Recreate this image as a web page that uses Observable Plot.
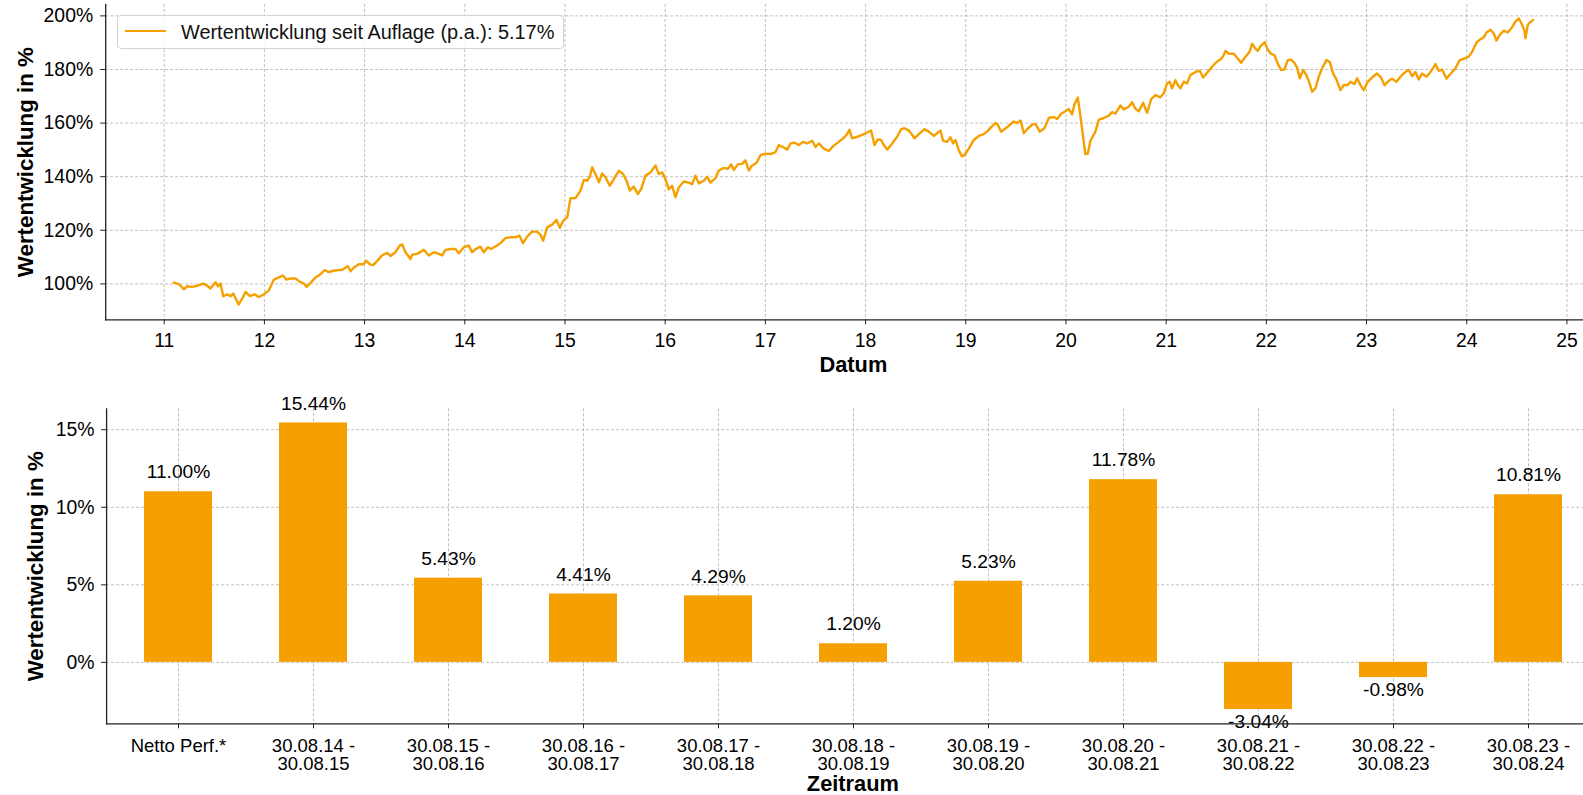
<!DOCTYPE html>
<html>
<head>
<meta charset="utf-8">
<script src="https://cdn.jsdelivr.net/npm/d3@7"></script>
<script src="https://cdn.jsdelivr.net/npm/@observablehq/plot@0.6"></script>
<style>
html, body { margin: 0; padding: 0; background: #fff; overflow: hidden; }
#wrap { position: relative; width: 1583px; height: 795px; overflow: hidden; font-family: "Liberation Sans", Arial, sans-serif; }
#wrap svg { display: block; overflow: hidden; }
#legend { position: absolute; left: 117px; top: 15px; width: 447px; height: 34px; box-sizing: border-box;
  border: 1px solid #d4d4d4; border-radius: 4px; background: rgba(255,255,255,0.85); }
#legend .swatch { position: absolute; left: 7px; top: 14px; width: 41px; height: 2px; background: #f5a000; }
#legend .lbl { position: absolute; left: 63px; top: 0; height: 32px; line-height: 32px; font-size: 19.9px; color: #111; white-space: nowrap; }
</style>
</head>
<body>
<div id="wrap">
  <div id="top"></div>
  <div id="bottom"></div>
  <div id="legend"><div class="swatch"></div><div class="lbl"></div></div>
</div>
<script>
// ---------- data: top line chart (decimal year, value in %) ----------
const lineYears = [
2011.096,2011.146,2011.196,2011.230,2011.279,2011.329,2011.389,2011.429,2011.462,2011.512,2011.539,2011.562,2011.589,2011.629,2011.662,2011.689,2011.722,2011.742,2011.779,2011.812,2011.855,2011.902,2011.945,2011.995,
2012.045,2012.095,2012.144,2012.184,2012.218,2012.261,2012.314,2012.344,2012.394,2012.421,2012.461,2012.510,2012.560,2012.600,2012.644,2012.687,2012.727,2012.777,2012.810,2012.833,2012.860,2012.893,2012.943,2012.986,
2013.019,2013.053,2013.086,2013.126,2013.176,2013.226,2013.259,2013.309,2013.352,
2013.375,2013.408,2013.458,2013.474,2013.524,2013.591,2013.641,2013.691,2013.741,2013.774,2013.807,2013.857,2013.907,2013.940,2013.990,
2014.040,2014.073,2014.107,2014.156,2014.190,2014.230,2014.263,2014.323,2014.356,2014.406,2014.456,2014.506,2014.546,2014.582,2014.622,2014.672,2014.722,2014.755,2014.782,2014.822,2014.872,2014.915,2014.948,2014.982,
2015.022,2015.055,2015.105,2015.155,2015.188,2015.221,2015.248,2015.271,2015.304,2015.338,2015.371,2015.404,2015.447,2015.487,2015.537,2015.580,2015.614,2015.647,2015.687,2015.727,2015.760,2015.803,2015.853,
2015.903,2015.936,2015.969,2016.003,2016.036,2016.069,2016.103,2016.136,2016.186,2016.236,2016.269,2016.302,2016.335,2016.385,2016.419,2016.452,2016.502,2016.535,2016.585,2016.625,2016.658,2016.685,2016.725,2016.768,2016.801,2016.834,2016.868,2016.911,2016.951,
2017.001,2017.051,2017.101,2017.134,2017.184,2017.217,2017.250,2017.290,2017.334,2017.377,2017.417,2017.467,2017.500,2017.533,2017.583,2017.633,2017.676,2017.733,2017.776,2017.816,2017.839,2017.866,2017.916,2017.966,
2018.016,2018.055,2018.089,2018.122,2018.155,2018.182,2018.215,2018.265,2018.315,2018.355,
2018.388,2018.431,2018.454,2018.488,2018.531,2018.588,2018.631,2018.681,2018.714,2018.747,2018.774,2018.814,2018.847,2018.874,2018.897,2018.930,2018.963,2018.987,
2019.030,2019.080,2019.130,2019.180,2019.220,2019.253,2019.296,2019.319,2019.353,2019.386,2019.429,2019.479,2019.512,2019.546,2019.579,2019.612,2019.662,2019.695,2019.739,2019.785,2019.829,2019.878,2019.912,2019.952,2019.995,
2020.028,2020.061,2020.085,2020.118,2020.145,2020.171,2020.194,2020.218,2020.244,2020.294,2020.328,2020.377,2020.427,2020.461,2020.494,2020.544,2020.577,2020.627,2020.660,2020.694,2020.727,2020.770,2020.810,2020.850,2020.893,2020.943,2020.976,
2021.009,2021.036,2021.059,2021.093,2021.116,2021.142,2021.176,2021.209,2021.242,2021.292,2021.335,2021.369,2021.409,2021.458,2021.502,2021.542,2021.568,2021.592,2021.625,2021.675,2021.715,2021.748,2021.791,2021.831,2021.858,2021.891,2021.914,2021.941,2021.984,
2022.014,2022.047,2022.081,2022.114,2022.147,2022.180,2022.214,2022.247,2022.280,2022.307,2022.334,2022.367,2022.393,2022.423,2022.457,2022.490,2022.523,2022.556,2022.600,2022.633,2022.666,2022.699,2022.739,2022.773,2022.813,2022.839,2022.879,2022.906,2022.939,2022.972,
2023.012,2023.055,2023.105,2023.145,2023.179,2023.222,2023.255,2023.298,2023.338,2023.378,2023.421,2023.455,2023.488,2023.521,2023.554,2023.598,2023.638,2023.688,2023.721,2023.754,2023.797,2023.837,2023.887,2023.930,2023.977,
2024.020,2024.054,2024.097,2024.137,2024.170,2024.197,2024.237,2024.270,2024.296,2024.330,2024.370,2024.410,2024.453,2024.486,2024.519,2024.553,2024.576,2024.586,2024.609,2024.629,2024.662
];
const lineValues = [
100.5,99.9,98.0,99.1,98.9,99.3,100.1,99.3,98.3,100.6,99.1,100.1,95.4,96.1,95.4,96.4,93.9,92.3,94.5,97.0,95.4,96.1,95.1,96.1,
97.6,101.6,102.4,103.1,101.6,102.0,102.0,101.0,100.1,98.9,100.4,102.4,103.6,105.1,104.4,104.9,105.1,105.3,106.1,106.6,104.7,106.1,107.3,107.3,
108.6,107.3,107.0,108.6,110.7,111.6,110.4,111.9,114.4,
114.7,111.8,109.3,110.9,111.2,112.7,110.6,111.8,111.2,110.6,112.7,113.0,113.0,111.4,113.7,
114.3,111.8,113.0,113.9,111.8,113.7,113.0,114.3,115.2,117.1,117.4,117.4,118.0,115.2,117.6,119.5,119.5,118.3,116.1,121.1,122.1,123.9,120.9,123.6,
124.8,132.0,132.0,134.8,138.8,138.5,140.0,143.5,141.0,137.9,141.2,139.8,136.6,139.1,142.2,141.0,138.5,134.8,136.3,133.5,135.4,140.4,141.6,
144.2,141.0,141.6,139.1,135.3,136.6,132.4,136.0,138.2,137.8,137.2,140.4,137.5,138.5,140.0,137.8,139.5,142.3,143.3,142.9,144.6,142.5,144.6,144.8,146.1,142.3,144.2,145.1,148.0,
148.6,148.4,149.2,151.8,150.9,150.1,152.4,152.7,151.8,153.0,152.4,153.4,151.1,152.4,150.5,149.6,151.4,153.0,154.3,155.9,157.5,154.3,154.9,155.6,
156.5,157.2,151.8,153.9,153.7,151.8,150.1,152.4,154.9,157.7,
158.1,157.2,156.2,154.3,155.9,157.7,156.8,155.2,156.2,157.2,153.4,153.0,154.7,152.4,153.7,149.9,147.6,148.0,
150.5,153.7,155.2,155.9,157.1,158.5,160.0,159.4,156.8,157.7,159.0,160.6,160.0,161.0,156.2,157.7,159.4,159.7,156.8,158.1,161.9,162.3,161.5,163.5,164.4,
165.3,163.2,167.0,169.5,162.5,154.9,148.4,148.6,153.4,156.8,161.3,161.9,162.8,164.1,163.5,166.6,165.1,166.1,167.8,165.3,164.4,167.6,163.8,168.9,170.4,169.6,171.1,
174.8,175.4,173.0,176.0,174.2,173.0,175.4,174.8,177.9,179.1,179.5,177.0,178.8,181.0,182.8,183.7,184.9,186.9,185.9,185.9,184.1,182.5,184.7,186.5,189.6,187.8,186.9,188.6,190.2,
187.4,185.9,185.3,182.2,179.8,180.0,183.5,183.7,182.5,180.7,176.7,179.8,178.3,175.8,171.7,173.0,177.3,180.4,183.5,182.8,178.5,176.3,172.3,174.2,174.2,175.4,174.6,176.7,174.2,172.3,
175.4,177.0,178.5,177.0,174.1,175.8,176.6,175.4,177.3,178.8,179.8,177.5,179.1,176.3,178.5,177.3,179.1,182.0,179.5,180.0,176.6,178.3,180.4,183.5,184.1,
184.8,186.6,190.0,191.3,192.0,193.8,194.8,193.5,190.8,192.9,194.5,193.8,195.8,197.9,199.1,196.6,194.5,191.6,196.6,197.5,198.5
];
const yearTicks = [2011,2012,2013,2014,2015,2016,2017,2018,2019,2020,2021,2022,2023,2024,2025];
const topYTicks = [100,120,140,160,180,200];
const legendLabel = "Wertentwicklung seit Auflage (p.a.): 5.17%";

// ---------- data: bottom bar chart ----------
const periods = ["Netto Perf.*","30.08.14 -\n30.08.15","30.08.15 -\n30.08.16","30.08.16 -\n30.08.17","30.08.17 -\n30.08.18",
  "30.08.18 -\n30.08.19","30.08.19 -\n30.08.20","30.08.20 -\n30.08.21","30.08.21 -\n30.08.22","30.08.22 -\n30.08.23","30.08.23 -\n30.08.24"];
const barValues = [11.00,15.44,5.43,4.41,4.29,1.20,5.23,11.78,-3.04,-0.98,10.81];
const bottomYTicks = [0,5,10,15];

// ---------- styling ----------
const ORANGE = "#f5a000";
const FONT = '"Liberation Sans", Arial, sans-serif';
const GRID = {stroke: "#b0b0b0", strokeOpacity: 1, strokeWidth: 0.8, strokeDasharray: "3,2"};
const SPINE = {stroke: "#222", strokeWidth: 1.3};

const lineData = lineYears.map((t, i) => ({t, v: lineValues[i]}));

const topChart = Plot.plot({
  width: 1583, height: 380,
  marginTop: 4, marginBottom: 60.7, marginLeft: 105.2, marginRight: -17.5,
  style: {fontFamily: FONT, fontSize: "19.4px", color: "#000", background: "#fff", overflow: "hidden"},
  x: {domain: [2010.416, 2025.34]},
  y: {domain: [86.6, 204.25]},
  marks: [
    Plot.gridX(yearTicks, GRID),
    Plot.gridY(topYTicks, GRID),
    Plot.line(lineData, {x: "t", y: "v", stroke: ORANGE, strokeWidth: 2.4, strokeLinejoin: "round"}),
    Plot.axisX(yearTicks, {tickFormat: d => String(d).slice(2), tickSize: 5, tickPadding: 8, fontSize: 19.4, label: null, stroke: "#222"}),
    Plot.axisY(topYTicks, {tickFormat: d => d + "%", tickSize: 5, tickPadding: 7.5, fontSize: 19.4, label: null, stroke: "#222"}),
    Plot.frame({anchor: "left", ...SPINE}),
    Plot.frame({anchor: "bottom", ...SPINE}),
    Plot.text(["Wertentwicklung in %"], {frameAnchor: "left", textAnchor: "middle", lineAnchor: "middle", dx: -80.2, rotate: -90, fontWeight: "bold", fontSize: 22.3, fill: "#000"}),
    Plot.text(["Datum"], {frameAnchor: "bottom", textAnchor: "middle", lineAnchor: "middle", dy: 45.7, fontWeight: "bold", fontSize: 21.8, fill: "#000"})
  ]
});
document.getElementById("top").appendChild(topChart);

const barData = periods.map((p, i) => ({p, v: barValues[i]}));
const bottomChart = Plot.plot({
  width: 1583, height: 415,
  marginTop: 28.3, marginBottom: 71.7, marginLeft: 106.1, marginRight: -15.7,
  style: {fontFamily: FONT, fontSize: "18.5px", color: "#000", background: "#fff", overflow: "hidden"},
  x: {domain: periods, paddingInner: 0.5, paddingOuter: 0.25, align: 0.5},
  y: {domain: [-3.96, 16.35]},
  marks: [
    Plot.gridX(periods, GRID),
    Plot.gridY(bottomYTicks, GRID),
    Plot.barY(barData, {x: "p", y: "v", fill: ORANGE}),
    Plot.text(barData.filter(d => d.v >= 0), {x: "p", y: "v", text: d => d.v.toFixed(2) + "%", dy: -19.5, fontSize: 19.2, fill: "#000"}),
    Plot.text(barData.filter(d => d.v < 0), {x: "p", y: "v", text: d => d.v.toFixed(2) + "%", dy: 12.3, fontSize: 19.2, fill: "#000"}),
    Plot.axisX({tickSize: 5, tickPadding: 10.5, fontSize: 18.5, lineHeight: 0.97, label: null, stroke: "#222"}),
    Plot.axisY(bottomYTicks, {tickFormat: d => d + "%", tickSize: 5, tickPadding: 7, fontSize: 19.4, label: null, stroke: "#222"}),
    Plot.frame({anchor: "left", ...SPINE}),
    Plot.frame({anchor: "bottom", ...SPINE}),
    Plot.text(["Wertentwicklung in %"], {frameAnchor: "left", textAnchor: "middle", lineAnchor: "middle", dx: -70.4, rotate: -90, fontWeight: "bold", fontSize: 22.3, fill: "#000"}),
    Plot.text(["Zeitraum"], {frameAnchor: "bottom", textAnchor: "middle", lineAnchor: "middle", dy: 60.7, fontWeight: "bold", fontSize: 21.8, fill: "#000"})
  ]
});
document.getElementById("bottom").appendChild(bottomChart);

document.querySelector("#legend .lbl").textContent = legendLabel;
</script>
</body>
</html>
